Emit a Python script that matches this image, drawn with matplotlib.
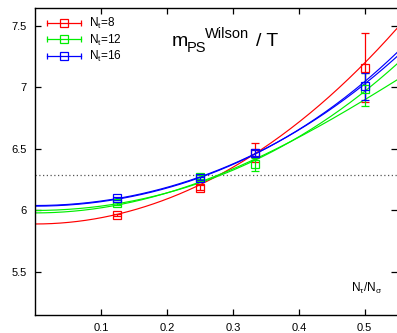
import numpy as np
import matplotlib
matplotlib.use("Agg")
import matplotlib.pyplot as plt
from matplotlib.lines import Line2D
from matplotlib.legend_handler import HandlerLine2D, HandlerTuple

plt.rcParams['font.family'] = ['Liberation Sans', 'DejaVu Sans']
plt.rcParams['mathtext.fontset'] = 'custom'
plt.rcParams['mathtext.rm'] = 'Liberation Sans'
plt.rcParams['mathtext.it'] = 'Liberation Sans'

# N_tau / N_sigma
ratio = [1 / 8, 1 / 4, 1 / 3, 1 / 2]

labels = ["N$_t$=8", "N$_t$=12", "N$_t$=16"]
colors = ["#ff0000", "#00ee00", "#0000ff"]

mps_nt8 = [5.965, 6.183, 6.47, 7.16]
err_nt8 = [0.010, 0.020, 0.08, 0.28]
mps_nt12 = [6.058, 6.270, 6.375, 6.985]
err_nt12 = [0.010, 0.015, 0.055, 0.135]
mps_nt16 = [6.098, 6.262, 6.470, 7.01]
err_nt16 = [0.010, 0.012, 0.025, 0.11]

# fit curves a + b x^2 + c x^4
fits_nt8 = [[5.89, 5.05, 0.75]]
fits_nt12 = [[6.00, 3.50, 1.5], [5.98, 4.13, -1.8]]
fits_nt16 = [[6.04, 3.64, 1.26], [6.035, 3.60, 1.8]]

crossing = 6.285

W, H = 397, 333
fig = plt.figure(figsize=(W / 100, H / 100), dpi=100)
ax = fig.add_axes([35 / W, 18 / H, 1 - 35 / W, (315 - 8) / H])
ax.set_xlim(0, 0.549)
ax.set_ylim(5.15, 7.646)

xs = np.linspace(0, 0.549, 300)
handles = []
hmap = {}
for y, e, fits, c, lab in zip([mps_nt8, mps_nt12, mps_nt16],
                              [err_nt8, err_nt12, err_nt16],
                              [fits_nt8, fits_nt12, fits_nt16],
                              colors, labels):
    for a, b, cc in fits:
        ax.plot(xs, a + b * xs**2 + cc * xs**4, color=c, lw=0.85, zorder=2)
    ax.errorbar(ratio, y, yerr=e, fmt='s', ms=5.5, mfc='none', mec=c,
                mew=0.9, color=c, elinewidth=0.9, capsize=2.8, capthick=0.9,
                zorder=3)
    # legend entry: |--[]--| like the plotted error bars
    caps = Line2D([], [], color=c, lw=0.9, marker='|', ms=5, mew=0.9)
    sq = Line2D([], [], ls='none', marker='s', ms=5.5, mfc='none', mec=c, mew=0.9)
    hmap[caps] = HandlerLine2D(numpoints=2)
    hmap[sq] = HandlerLine2D(numpoints=1)
    handles.append(((caps, sq), lab))

leg = ax.legend([h for h, _ in handles], [l for _, l in handles],
                handler_map={**hmap, tuple: HandlerTuple(ndivide=1)},
                loc='upper left', bbox_to_anchor=(0.0, 1.0), frameon=False,
                fontsize=8.5, handlelength=3.5, handletextpad=0.4,
                labelspacing=0.1, borderaxespad=0.3)

ax.axhline(crossing, color='#555555', lw=0.9, ls=(0, (1, 2)), zorder=1)

ax.set_xticks([0.1, 0.2, 0.3, 0.4, 0.5])
ax.set_yticks([5.5, 6, 6.5, 7, 7.5])
ax.set_yticklabels(["5.5", "6", "6.5", "7", "7.5"])
ax.tick_params(direction='in', length=4.5, width=0.9, labelsize=8,
               top=True, right=True, pad=6)
ax.spines['right'].set_visible(False)
for s in ['left', 'bottom', 'top']:
    ax.spines[s].set_linewidth(1.0)

ax.text((367 - 35) / (W - 35), (315 - 292) / (315 - 8),
        r"N$_\tau$/N$_\sigma$", transform=ax.transAxes, ha='center',
        va='baseline', fontsize=8.5)


def px(x, y):
    return x / W, 1 - y / H


fig.text(*px(172, 46.5), "m", fontsize=14, va='baseline')
fig.text(*px(187, 51.5), "PS", fontsize=10.5, va='baseline')
fig.text(*px(205, 37.5), "Wilson", fontsize=10.5, va='baseline')
fig.text(*px(256, 46.5), "/ T", fontsize=14, va='baseline')

fig.savefig("out.png", dpi=100)
